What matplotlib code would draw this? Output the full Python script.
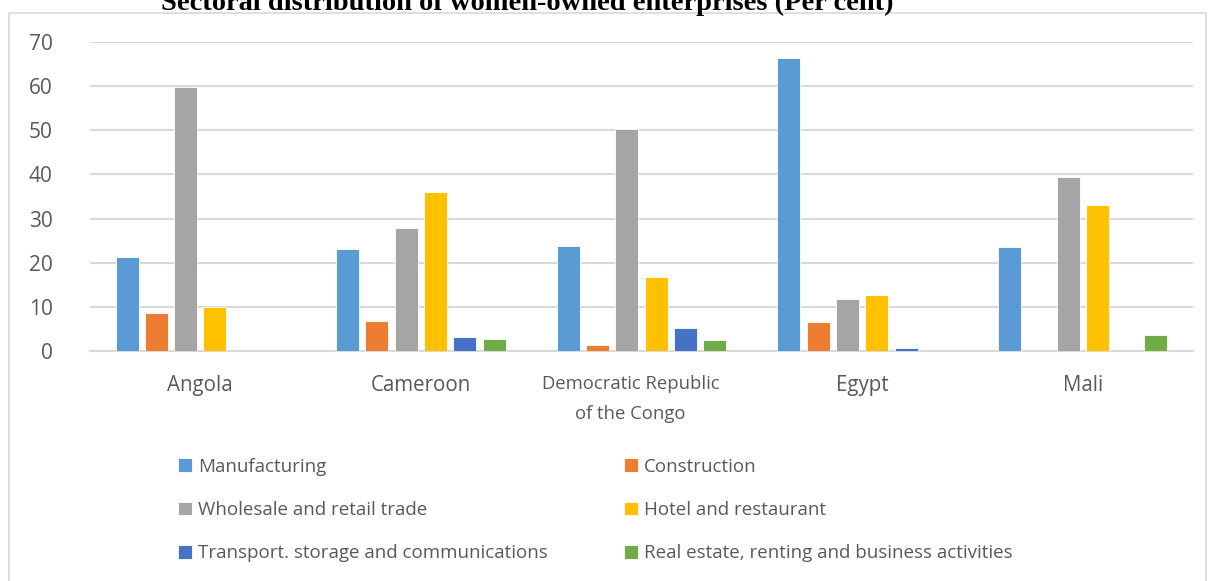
import matplotlib
matplotlib.use("Agg")
import matplotlib.pyplot as plt
import numpy as np
from matplotlib.patches import Rectangle

categories = ["Angola", "Cameroon", "Democratic Republic\nof the Congo", "Egypt", "Mali"]
series_names = ["Manufacturing", "Construction", "Wholesale and retail trade",
                "Hotel and restaurant", "Transport. storage and communications",
                "Real estate, renting and business activities"]
manufacturing = [21.2, 23.0, 23.8, 66.4, 23.5]
construction = [8.7, 6.8, 1.4, 6.6, 0.0]
wholesale = [59.8, 27.9, 50.3, 11.7, 39.4]
hotel = [10.0, 36.0, 16.7, 12.7, 33.1]
transport = [0.0, 3.1, 5.1, 0.7, 0.0]
real_estate = [0.0, 2.8, 2.4, 0.0, 3.6]
colors = ["#5B9BD5", "#ED7D31", "#A5A5A5", "#FFC000", "#4472C4", "#70AD47"]
yticks = [0, 10, 20, 30, 40, 50, 60, 70]

W, H = 1209, 581
fig = plt.figure(figsize=(W / 100, H / 100), dpi=100)
fig.patch.set_facecolor("white")
FONT = "Open Sans"
TXT = "#595959"

# outer chart border
fig.add_artist(Rectangle((9 / W, -0.01), (1206 - 9) / W, 1 - 13 / H + 0.01,
                         transform=fig.transFigure, fill=False,
                         edgecolor="#D9D9D9", linewidth=1.2))

ax = fig.add_axes([90 / W, 1 - 351 / H, (1193 - 90) / W, (351 - 42) / H])
all_series = [manufacturing, construction, wholesale, hotel, transport, real_estate]
x = np.arange(len(categories))
pitch = 0.1328
bw = 0.104
handles = []
for i, (vals, c, name) in enumerate(zip(all_series, colors, series_names)):
    b = ax.bar(x + (i - 2.5) * pitch, vals, width=bw, color=c, label=name,
               edgecolor="white", linewidth=0.6, zorder=3)
    handles.append(b)

ax.set_xlim(-0.5, len(categories) - 0.5)
ax.set_ylim(0, 70)
ax.set_yticks(yticks)
ax.yaxis.grid(True, color="#D9D9D9", linewidth=1.5, zorder=0)
for s in ["top", "right", "left"]:
    ax.spines[s].set_visible(False)
ax.spines["bottom"].set_color("#D9D9D9")
ax.spines["bottom"].set_linewidth(1.5)
ax.tick_params(axis="both", length=0, colors=TXT)
ax.tick_params(axis="y", labelsize=15, pad=27)
for lab in ax.get_yticklabels():
    lab.set_family(FONT)
# wrapped label sits slightly left of its category centre (as in the original)
tick_pos = x.astype(float).copy()
tick_pos[2] -= 0.05
ax.set_xticks(tick_pos)
ax.set_xticklabels(categories, fontsize=14.8, color=TXT, linespacing=1.85,
                   family=FONT)
for lab in ax.get_xticklabels():
    if "\n" in lab.get_text():
        lab.set_fontsize(13.3)
ax.tick_params(axis="x", pad=17)

fig.text(527 / W, 1 - 9.5 / H, "Sectoral distribution of women-owned enterprises (Per cent)",
         ha="center", va="baseline", fontsize=20.5, fontweight="bold",
         family="Liberation Serif", color="black")

legkw = dict(frameon=False, handlelength=0.75, handleheight=0.75,
             handletextpad=0.32, labelspacing=1.36, borderpad=0,
             borderaxespad=0, loc="center left",
             prop={"family": FONT, "size": 13.5})
col1 = [0, 2, 4]
col2 = [1, 3, 5]
leg1 = fig.legend([handles[i] for i in col1], [series_names[i] for i in col1],
                  bbox_to_anchor=(178 / W, 1 - 510 / H), **legkw)
leg2 = fig.legend([handles[i] for i in col2], [series_names[i] for i in col2],
                  bbox_to_anchor=(624 / W, 1 - 510 / H), **legkw)
for leg in (leg1, leg2):
    for t in leg.get_texts():
        t.set_color(TXT)

fig.savefig("out.png", dpi=100, facecolor="white")
